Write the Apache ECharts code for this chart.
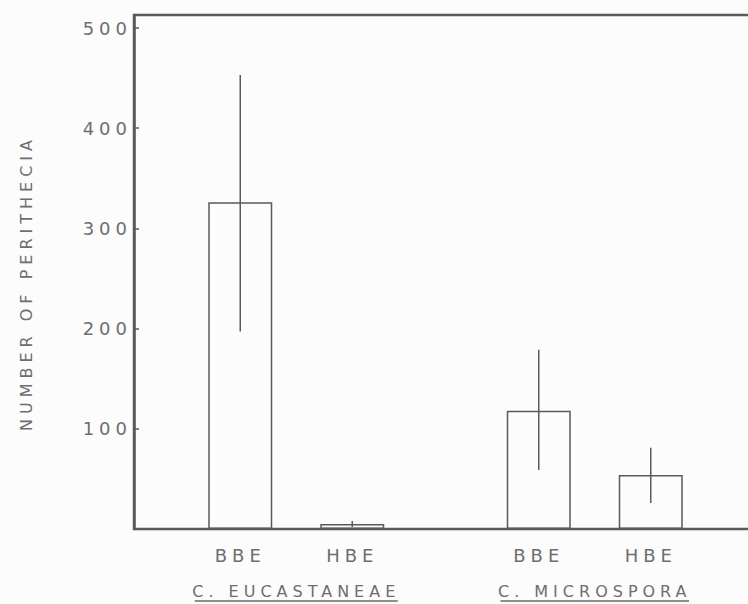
<!DOCTYPE html>
<html>
<head>
<meta charset="utf-8">
<script src="https://cdn.jsdelivr.net/npm/echarts@6/dist/echarts.min.js"></script>
<style>
  html, body { margin: 0; padding: 0; background: #fcfcfc; }
  #main { width: 748px; height: 604px; }
  /* old hand lettering is widely spaced */
  #main text { letter-spacing: 5px; }
</style>
</head>
<body>
<div id="main"></div>
<script>
const species = ['C. EUCASTANEAE', 'C. MICROSPORA']
const treatments = ['BBE', 'HBE']

const bbeMean = [326, 118]
const bbeLow = [197, 59]
const bbeHigh = [453, 179]

const hbeMean = [5, 54]
const hbeLow = [2, 26]
const hbeHigh = [8, 81]

const yTicks = [0, 100, 200, 300, 400, 500]

const ink = '#5a5a5a'
const textColor = '#6e6e6e'
const font = 'DejaVu Sans'
const barW = 64
const gapPct = 0.75
const spacing = 5

// width of a label incl. letter spacing, for the underline
const measure = document.createElement('canvas').getContext('2d')
function labelWidth(s, size) {
  measure.font = size + 'px "' + font + '"'
  return measure.measureText(s).width + spacing * (s.length - 1)
}

const rich = {
  t: { fontSize: 16, lineHeight: 17, color: textColor, fontFamily: font }
}
species.forEach((s, i) => {
  rich['u' + i] = { width: labelWidth(s, 16), height: 1.5, lineHeight: 2, backgroundColor: '#6a6a6a' }
})

const errData = []
species.forEach((s, i) => {
  errData.push([i, bbeLow[i], bbeHigh[i], 0])
  errData.push([i, hbeLow[i], hbeHigh[i], 1])
})

const barOffset = (barW + barW * gapPct) / 2

const option = {
  backgroundColor: '#fcfcfc',
  animation: false,
  grid: [
    { left: 134, right: -30, top: 15, bottom: 75, outerBoundsMode: 'none', containLabel: false, show: true, borderColor: ink, borderWidth: 2.5 },
    { left: 147, right: 4, top: 15, bottom: 75, outerBoundsMode: 'none', containLabel: false }
  ],
  xAxis: [
    { gridIndex: 0, type: 'value', show: false },
    {
      gridIndex: 1,
      type: 'category',
      data: species,
      axisLine: { show: false },
      axisTick: { show: false },
      axisLabel: {
        margin: 54,
        interval: 0,
        formatter: (v, i) => '{t|' + v + '}\n{u' + i + '|}',
        rich: rich
      }
    }
  ],
  yAxis: [
    {
      gridIndex: 0,
      type: 'value',
      min: yTicks[0],
      max: 513,
      interval: 100,
      name: 'NUMBER OF PERITHECIA',
      nameLocation: 'middle',
      nameGap: 100,
      nameTextStyle: { color: textColor, fontSize: 16, fontFamily: font, padding: [0, 22, 0, 0] },
      axisLine: { show: true, lineStyle: { color: ink, width: 2.5 } },
      axisTick: { show: true, inside: true, length: 5, lineStyle: { color: ink, width: 1.5 } },
      axisLabel: {
        margin: 2,
        color: textColor,
        fontSize: 18,
        fontFamily: font,
        formatter: v => (yTicks.indexOf(v) > 0 ? String(v) : '')
      },
      splitLine: { show: false }
    },
    { gridIndex: 1, type: 'value', min: yTicks[0], max: 513, show: false }
  ],
  series: [
    {
      name: treatments[0],
      type: 'bar',
      xAxisIndex: 1,
      yAxisIndex: 1,
      data: bbeMean,
      barWidth: barW,
      barGap: (gapPct * 100) + '%',
      itemStyle: { color: 'rgba(255,255,255,0)', borderColor: ink, borderWidth: 1.5 },
      label: {
        show: true,
        position: 'bottom',
        distance: 17,
        formatter: '{a}',
        color: textColor,
        fontSize: 18,
        fontFamily: font
      }
    },
    {
      name: treatments[1],
      type: 'bar',
      xAxisIndex: 1,
      yAxisIndex: 1,
      data: hbeMean,
      barWidth: barW,
      itemStyle: { color: 'rgba(255,255,255,0)', borderColor: ink, borderWidth: 1.5 },
      label: {
        show: true,
        position: 'bottom',
        distance: 17,
        formatter: '{a}',
        color: textColor,
        fontSize: 18,
        fontFamily: font
      }
    },
    {
      type: 'custom',
      xAxisIndex: 1,
      yAxisIndex: 1,
      data: errData,
      z: 5,
      renderItem: (params, api) => {
        const dx = api.value(3) === 0 ? -barOffset : barOffset
        const lo = api.coord([api.value(0), api.value(1)])
        const hi = api.coord([api.value(0), api.value(2)])
        return {
          type: 'line',
          shape: { x1: lo[0] + dx, y1: lo[1], x2: hi[0] + dx, y2: hi[1] },
          style: { stroke: ink, lineWidth: 1.5 }
        }
      }
    }
  ]
}

const chart = echarts.init(document.getElementById('main'), null, { renderer: 'svg' })
chart.setOption(option)
window.addEventListener('resize', () => chart.resize())
</script>
</body>
</html>
